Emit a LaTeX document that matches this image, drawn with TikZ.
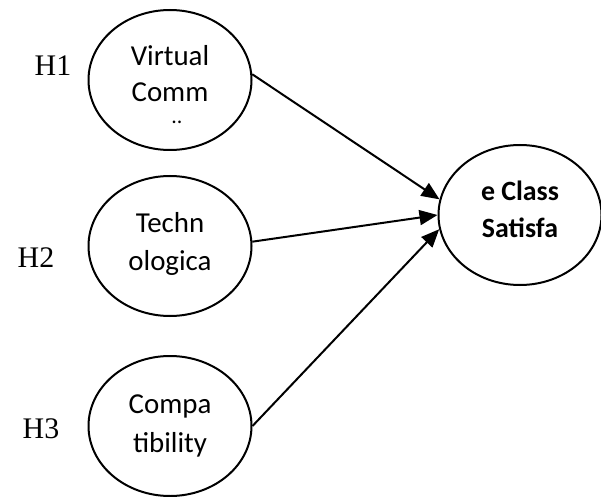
\documentclass[tikz,border=0pt]{standalone}
\usepackage{fontspec}
\setmainfont{Liberation Serif}
\newfontfamily\calib{Carlito}
\usetikzlibrary{shapes.geometric,arrows.meta}
\begin{document}
\begin{tikzpicture}[x=1bp,y=-1bp,
  oval/.style={draw,ellipse,line width=2bp,minimum width=163bp,minimum height=140bp,inner sep=0pt},
  lbl/.style={font=\calib\fontsize{29}{36}\selectfont,anchor=base,inner sep=0pt},
  blbl/.style={font=\calib\bfseries\fontsize{28}{36}\selectfont,anchor=base,inner sep=0pt},
  hyp/.style={font=\fontsize{30}{34}\selectfont,anchor=base,inner sep=0pt},
  link/.style={line width=2bp,-{Triangle[length=18bp,width=15bp]}}]
\useasboundingbox (0,0) rectangle (601,497);
\node[oval] (e1) at (170,80) {};
\node[oval] (e2) at (170,246) {};
\node[oval] (e3) at (170,426) {};
\node[oval] (t) at (520,215) {};
\node[lbl] (v1) at (170,66) {Virtual};
\node[lbl] (v2) at (170,102) {Comm};
\node[lbl,font=\calib\fontsize{22}{24}\selectfont] (v3) at (177,124) {..};
\node[lbl] (t1) at (170,233) {Techn};
\node[lbl] (t2) at (170,270) {ologica};
\node[lbl] (c1) at (170,413) {Compa};
\node[lbl] (c2) at (170,452) {tibility};
\node[blbl] (s1) at (520,201) {e Class};
\node[blbl] (s2) at (520,238) {Satisfa};
\node[hyp] (h1) at (53,76) {H1};
\node[hyp] (h2) at (36,267) {H2};
\node[hyp] (h3) at (41,438) {H3};
\draw[link] (e1.4) -- (t.169);
\draw[link] (e2.3) -- (t.180);
\draw[link] (e3.0) -- (t.190);
\end{tikzpicture}
\end{document}
